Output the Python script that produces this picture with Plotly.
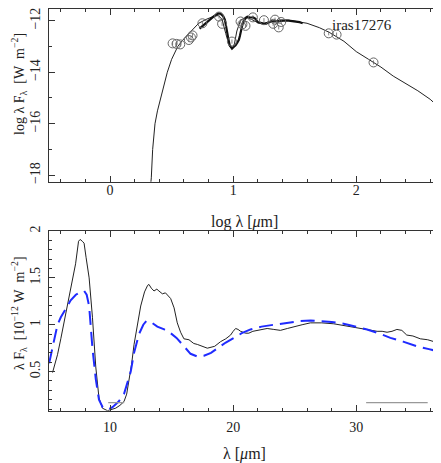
import math
import plotly.graph_objects as go

# top panel: SED in log-log
model_logl = [0.325, 0.335, 0.346, 0.365, 0.385, 0.41, 0.44, 0.465, 0.5, 0.55, 0.6, 0.65, 0.72, 0.78,
              0.84, 0.88, 0.91, 0.94, 0.97, 0.99, 1.01, 1.03, 1.06, 1.1, 1.15, 1.2, 1.25, 1.3, 1.38,
              1.45, 1.54, 1.6, 1.7, 1.78, 1.9, 2.0, 2.1, 2.2, 2.3, 2.4, 2.5, 2.6, 2.68]
model_logf = [-18.6, -18.1, -17.0, -16.0, -15.5, -15.0, -14.45, -14.0, -13.5, -13.0, -12.7, -12.45,
              -12.1, -11.95, -11.83, -11.8, -11.95, -12.5, -13.0, -13.1, -12.9, -12.4, -11.98,
              -11.87, -11.95, -12.08, -12.1, -12.03, -11.97, -11.98, -12.04, -12.1, -12.27, -12.45,
              -12.8, -13.2, -13.5, -13.8, -14.15, -14.42, -14.72, -15.05, -15.4]

phot_logl = [0.508, 0.54, 0.57, 0.64, 0.657, 0.67, 0.75, 0.885, 0.91, 0.99, 1.06, 1.075, 1.10,
             1.16, 1.25, 1.325, 1.34, 1.37, 1.39, 1.776, 1.84, 2.14]
phot_logf = [-12.88, -12.9, -12.92, -12.75, -12.65, -12.57, -12.1, -11.84, -12.12, -12.81, -12.03,
             -12.14, -12.2, -11.87, -11.98, -12.12, -11.96, -12.26, -12.05, -12.49, -12.54, -13.62]
phot_err = [0.08] * len(phot_logl)

# bottom panel: spectrum (10^-12 W m^-2) and model
spec_lam = [5.33, 5.5, 5.73, 6.0, 6.41, 6.7, 6.95, 7.2, 7.44, 7.57, 7.75, 7.89, 8.05, 8.3, 8.57,
            8.84, 9.1, 9.38, 9.79, 10.1, 10.46, 10.8, 11.13, 11.35, 11.54, 11.75, 11.95, 12.2,
            12.49, 12.8, 13.05, 13.16, 13.35, 13.57, 13.8, 13.97, 14.25, 14.5, 14.65, 14.92, 15.2,
            15.46, 15.73, 16.0, 16.41, 16.8, 17.09, 17.5, 17.9, 18.5, 18.98, 19.4, 19.79, 20.0,
            20.2, 20.4, 20.6, 21.0, 21.27, 21.6, 21.95, 22.3, 22.76, 23.3, 23.84, 24.4, 24.92,
            25.6, 26.27, 27.2, 28.17, 29.0, 29.79, 30.7, 31.69, 32.1, 32.5, 32.9, 33.3, 33.7,
            34.1, 34.6, 35.2, 35.8, 36.3, 36.7]
spec_flux = [0.49, 0.56, 0.68, 0.85, 1.13, 1.32, 1.47, 1.65, 1.89, 1.91, 1.89, 1.87, 1.72, 1.50,
             1.08, 0.55, 0.22, 0.11, 0.083, 0.095, 0.11, 0.14, 0.18, 0.26, 0.40, 0.58, 0.79, 1.0,
             1.2, 1.35, 1.42, 1.43, 1.39, 1.36, 1.38, 1.36, 1.33, 1.34, 1.32, 1.28, 1.18, 1.02,
             0.92, 0.85, 0.84, 0.80, 0.79, 0.77, 0.75, 0.77, 0.82, 0.85, 0.89, 0.93, 0.96, 0.95,
             0.93, 0.91, 0.91, 0.93, 0.94, 0.95, 0.96, 0.95, 0.94, 0.96, 0.98, 1.0, 1.02, 1.02,
             1.01, 0.99, 0.97, 0.95, 0.93, 0.93, 0.92, 0.93, 0.95, 0.94, 0.89, 0.88, 0.85, 0.84,
             0.82, 0.79]

fit_lam = [5.05, 5.4, 5.73, 6.0, 6.41, 6.8, 7.22, 7.6, 7.9, 8.1, 8.3, 8.57, 8.84, 9.1, 9.4, 9.79,
           10.2, 10.7, 11.13, 11.68, 11.95, 12.35, 12.7, 12.95, 13.3, 13.84, 14.4, 14.92, 15.4,
           15.87, 16.54, 17.1, 17.63, 18.2, 18.71, 19.4, 20.06, 20.7, 21.41, 22.3, 23.3, 24.4,
           25.47, 26.3, 27.09, 28.0, 28.98, 29.9, 30.88, 31.8, 32.77, 33.8, 34.93, 35.9, 36.8]
fit_flux = [0.59, 0.82, 1.0, 1.08, 1.18, 1.26, 1.32, 1.35, 1.36, 1.32, 1.2, 0.75, 0.42, 0.2, 0.12,
            0.094, 0.12, 0.18, 0.26, 0.5, 0.7, 0.9, 1.0, 1.04, 1.03, 0.98, 0.95, 0.91, 0.86, 0.79,
            0.69, 0.66, 0.67, 0.7, 0.75, 0.81, 0.86, 0.91, 0.95, 0.98, 1.0, 1.02, 1.04, 1.045,
            1.04, 1.03, 1.01, 0.98, 0.95, 0.91, 0.86, 0.82, 0.77, 0.74, 0.71]

bar_lam = [[9.85, 11.15], [30.8, 35.8]]
bar_flux = 0.17

FONT = "Liberation Serif"
OFF = 8  # page body margin
W, H = 441 - OFF, 463 - OFF
NB = "\u00a0"


def px(x):
    return (x - OFF) / W


def py(y):
    return 1 - (y - OFF) / H


fig = go.Figure()
# model SED (thin)
fig.add_trace(go.Scatter(x=model_logl, y=model_logf, mode="lines",
                         line=dict(color="#222", width=1), xaxis="x", yaxis="y"))
# observed spectrum in log (thick)
fig.add_trace(go.Scatter(x=[math.log10(l) for l in spec_lam],
                         y=[math.log10(f) - 12 for f in spec_flux], mode="lines",
                         line=dict(color="#111", width=2.2), xaxis="x", yaxis="y"))
fig.add_trace(go.Scatter(x=phot_logl, y=phot_logf, mode="markers",
                         marker=dict(symbol="circle-open", size=9, color="#666", line=dict(width=1)),
                         error_y=dict(type="data", array=phot_err, thickness=0.8, width=0, color="#666"),
                         xaxis="x", yaxis="y"))

fig.add_trace(go.Scatter(x=spec_lam, y=spec_flux, mode="lines",
                         line=dict(color="#222", width=1), xaxis="x2", yaxis="y2"))
fig.add_trace(go.Scatter(x=fit_lam, y=fit_flux, mode="lines",
                         line=dict(color="#1f2bff", width=2, dash="14px,7px"), xaxis="x2", yaxis="y2"))
for seg in bar_lam:
    fig.add_trace(go.Scatter(x=seg, y=[bar_flux, bar_flux], mode="lines",
                             line=dict(color="#999", width=1.2), xaxis="x2", yaxis="y2"))

x0, x1 = px(48.5), min(px(440), 1.0)
axcommon = dict(showline=True, linecolor="#333", linewidth=1, mirror="ticks", ticks="inside",
                ticklen=6, tickcolor="#333", showgrid=False, zeroline=False, automargin=False,
                ticklabeloverflow="allow",
                tickfont=dict(family=FONT, size=14, color="#222"))
minor = dict(ticks="inside", ticklen=3, tickcolor="#333", showgrid=False)

# top frame cannot go above the page margin; keep the data scale of the reference
top_y = 9
top_val = -12 - (top_y - 20.7) / 25.75

fig.update_layout(
    width=W, height=H, margin=dict(l=0, r=0, t=0, b=0, autoexpand=False),
    paper_bgcolor="white", plot_bgcolor="white", showlegend=False,
    xaxis=dict(domain=[x0, x1], range=[-0.5, 2.68], anchor="y", tick0=0, dtick=1,
               minor=dict(dtick=0.2, **minor), ticklabelstandoff=-5, **axcommon),
    yaxis=dict(domain=[py(181.7), py(top_y)], range=[-18.25, top_val], anchor="x",
               tickvals=[-18, -16, -14, -12], minor=dict(dtick=1, **minor), tickangle=-90,
               ticklabelstandoff=2, **axcommon),
    xaxis2=dict(domain=[x0, x1], range=[5, 36.8], anchor="y2", tick0=0, dtick=10,
                minor=dict(dtick=2, **minor), ticklabelstandoff=3, **axcommon),
    yaxis2=dict(domain=[py(410.7), py(231)], range=[0.083, 2.0], anchor="x2",
                tickvals=[0.5, 1, 1.5, 2], ticktext=["0.5", "1", "1.5", "2"],
                minor=dict(tick0=0, dtick=0.1, **minor), tickangle=-90,
                ticklabelstandoff=2, **axcommon),
)

lab = dict(family=FONT, size=16, color="#222")
ylabfont = dict(family=FONT, size=14, color="#222")
fig.add_annotation(x=1.784, y=-12.17, xref="x", yref="y", text="iras17276", showarrow=False,
                   xanchor="left", yanchor="middle", font=dict(family=FONT, size=15, color="#222"))
fig.add_annotation(x=(x0 + x1) / 2, y=py(222), xref="paper", yref="paper",
                   xanchor="center", yanchor="middle",
                   text="log λ [<i>μ</i>m]", showarrow=False, font=lab)
fig.add_annotation(x=(x0 + x1) / 2, y=py(454), xref="paper", yref="paper",
                   xanchor="center", yanchor="middle",
                   text="λ [<i>μ</i>m]", showarrow=False, font=lab)
ylab1 = NB.join(["log", "λ", "F<sub>λ</sub>", "", "[W", "", "m<sup>−2</sup>]"])
ylab2 = NB.join(["λ", "F<sub>λ</sub>", "", "[10<sup>−12</sup>", "W", "", "m<sup>−2</sup>]"])
fig.add_annotation(x=px(19), y=py(84), xref="paper", yref="paper", textangle=-90,
                   xanchor="center", yanchor="middle",
                   text=ylab1, showarrow=False, font=ylabfont)
fig.add_annotation(x=px(19), y=py(313), xref="paper", yref="paper", textangle=-90,
                   xanchor="center", yanchor="middle",
                   text=ylab2, showarrow=False, font=ylabfont)

fig.write_html("out.html")
